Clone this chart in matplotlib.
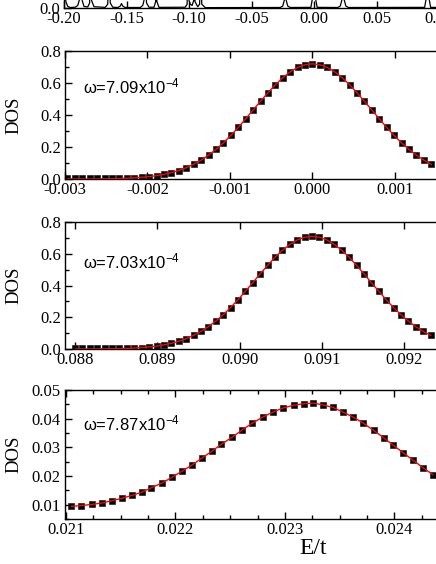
import numpy as np
import matplotlib
matplotlib.use('Agg')
import matplotlib.pyplot as plt
from matplotlib.ticker import MultipleLocator, FormatStrFormatter

plt.rcParams['font.family'] = ['Liberation Serif', 'DejaVu Serif']
plt.rcParams['axes.unicode_minus'] = False
plt.rcParams['mathtext.fontset'] = 'custom'
plt.rcParams['mathtext.rm'] = 'Liberation Sans'
plt.rcParams['mathtext.default'] = 'rm'

# top panel (only its bottom strip is visible)
e1 = [-0.2, -0.1985, -0.197, -0.195, -0.191, -0.189, -0.1875, -0.1865, -0.1855, -0.184,
      -0.181, -0.1795, -0.179, -0.178, -0.176, -0.167, -0.165, -0.164, -0.163, -0.161,
      -0.157, -0.155, -0.154, -0.153, -0.151, -0.139, -0.137, -0.136, -0.1352, -0.134,
      -0.132, -0.128, -0.1267, -0.1262, -0.1257, -0.124, -0.103, -0.1015, -0.1008, -0.100,
      -0.099, -0.0975, -0.0962, -0.0958, -0.0952, -0.093, -0.0915, -0.0905, -0.0898, -0.087,
      -0.027, -0.025, -0.0235, -0.023, -0.0225, -0.021, -0.019, -0.0025, -0.0015, -0.001,
      0.0, 0.001, 0.0015, 0.0025, 0.019, 0.021, 0.0225, 0.0232, 0.024, 0.0255, 0.0275,
      0.0885, 0.0895, 0.0901, 0.0909, 0.0917, 0.0923, 0.0933, 0.115]
dos1 = [0.2, 0.05, 0.012, 0.004, 0.006, 0.02, 0.07, 0.5, 0.06, 0.012,
        0.008, 0.04, 0.5, 0.06, 0.01, 0.005, 0.03, 0.5, 0.04, 0.006,
        0.004, 0.015, 0.035, 0.015, 0.004, 0.004, 0.02, 0.06, 0.5, 0.04,
        0.006, 0.006, 0.05, 0.5, 0.05, 0.005, 0.006, 0.03, 0.5, 0.06,
        0.03, 0.02, 0.06, 0.5, 0.05, 0.01, 0.03, 0.5, 0.03, 0.003,
        0.004, 0.015, 0.07, 0.1, 0.07, 0.015, 0.004, 0.005, 0.06, 0.3,
        0.72, 0.3, 0.06, 0.005, 0.004, 0.015, 0.07, 0.1, 0.07, 0.015, 0.004,
        0.005, 0.06, 0.3, 0.71, 0.3, 0.06, 0.005, 0.003]

# panel 2: peak at 0 (values in units of 1e-5)
e2 = [-297, -288, -279, -270, -261, -252, -243, -234, -225, -216,
      -207, -198, -189, -180, -171, -162, -153, -144, -135, -126,
      -117, -108, -99, -90, -81, -72, -63, -54, -45, -36,
      -27, -18, -9, 0, 9, 18, 27, 36, 45, 54,
      63, 72, 81, 90, 99, 108, 117, 126, 135, 144]
dos2 = [0.006, 0.006, 0.006, 0.006, 0.006, 0.006, 0.006, 0.006, 0.006, 0.008,
        0.011, 0.015, 0.021, 0.029, 0.040, 0.053, 0.071, 0.092, 0.118, 0.149,
        0.185, 0.226, 0.272, 0.322, 0.376, 0.431, 0.486, 0.539, 0.589, 0.633,
        0.670, 0.697, 0.714, 0.720, 0.714, 0.697, 0.670, 0.633, 0.589, 0.539,
        0.486, 0.431, 0.376, 0.322, 0.272, 0.226, 0.185, 0.149, 0.118, 0.092]
fit2 = [0.0001, 0.0002, 0.0003, 0.0005, 0.0008, 0.0013, 0.0021, 0.0032, 0.0048, 0.0070,
        0.0103, 0.0147, 0.021, 0.029, 0.040, 0.053, 0.071, 0.092, 0.118, 0.149,
        0.185, 0.226, 0.272, 0.322, 0.376, 0.431, 0.486, 0.539, 0.589, 0.633,
        0.670, 0.697, 0.714, 0.720, 0.714, 0.697, 0.670, 0.633, 0.589, 0.539,
        0.486, 0.431, 0.376, 0.322, 0.272, 0.226, 0.185, 0.149, 0.118, 0.092]

# panel 3: peak near 0.0909 (values in units of 1e-5)
e3 = [8800, 8809, 8818, 8827, 8836, 8845, 8854, 8863, 8872, 8881,
      8890, 8899, 8908, 8917, 8926, 8935, 8944, 8953, 8962, 8971,
      8980, 8989, 8998, 9007, 9016, 9025, 9034, 9043, 9052, 9061,
      9070, 9079, 9088, 9097, 9106, 9115, 9124, 9133, 9142, 9151,
      9160, 9169, 9178, 9187, 9196, 9205, 9214, 9223, 9232]
dos3 = [0.004, 0.004, 0.004, 0.004, 0.004, 0.004, 0.004, 0.004, 0.006, 0.009,
        0.013, 0.0185, 0.026, 0.036, 0.049, 0.065, 0.086, 0.111, 0.141, 0.176,
        0.216, 0.261, 0.311, 0.364, 0.418, 0.474, 0.527, 0.578, 0.622, 0.659,
        0.687, 0.704, 0.710, 0.704, 0.687, 0.659, 0.622, 0.578, 0.527, 0.474,
        0.418, 0.364, 0.311, 0.261, 0.216, 0.176, 0.141, 0.111, 0.086]
fit3 = [0.0002, 0.0003, 0.0004, 0.0007, 0.0011, 0.0017, 0.0027, 0.0041, 0.0061, 0.0090,
        0.0130, 0.0185, 0.026, 0.036, 0.049, 0.065, 0.086, 0.111, 0.141, 0.176,
        0.216, 0.261, 0.311, 0.364, 0.418, 0.474, 0.527, 0.578, 0.622, 0.659,
        0.687, 0.704, 0.710, 0.704, 0.687, 0.659, 0.622, 0.578, 0.527, 0.474,
        0.418, 0.364, 0.311, 0.261, 0.216, 0.176, 0.141, 0.111, 0.086]

# panel 4: peak near 0.0232 (values in units of 1e-5)
e4 = [2105, 2114, 2124, 2133, 2142, 2151, 2160, 2169, 2178, 2188,
      2197, 2206, 2215, 2224, 2233, 2242, 2252, 2261, 2270, 2280,
      2289, 2298, 2308, 2317, 2326, 2335, 2344, 2353, 2362, 2371,
      2381, 2390, 2399, 2408, 2417, 2426, 2435]
dos4 = [0.0094, 0.0097, 0.0101, 0.0106, 0.0114, 0.0122, 0.0132, 0.0143, 0.0159, 0.0176,
        0.0196, 0.0217, 0.0238, 0.0262, 0.0286, 0.0311, 0.0336, 0.0361, 0.0384, 0.0406,
        0.0423, 0.0437, 0.0447, 0.0452, 0.0454, 0.0448, 0.0439, 0.0423, 0.0406, 0.0386,
        0.0359, 0.0334, 0.0307, 0.0281, 0.0255, 0.0229, 0.0205]

W, H = 436, 564
fig = plt.figure(figsize=(W / 100, H / 100), dpi=100)


def make_ax(left, top, bottom, right=458):
    ax = fig.add_axes([left / W, (H - bottom) / H, (right - left) / W, (bottom - top) / H])
    ax.tick_params(which='both', direction='in', top=True, right=True, labelsize=12, width=1)
    ax.tick_params(which='major', length=5)
    ax.tick_params(which='minor', length=3)
    ax.tick_params(axis='x', pad=2)
    ax.tick_params(axis='y', pad=3)
    for s in ax.spines.values():
        s.set_linewidth(1.0)
    return ax


# panel 1
ax1 = make_ax(64, -120, 8)
ax1.plot(e1, dos1, color='black', lw=0.9)
ax1.set_xlim(-0.2, 0.1152)
ax1.set_ylim(0, 1.0)
ax1.xaxis.set_major_locator(MultipleLocator(0.05))
ax1.xaxis.set_major_formatter(FormatStrFormatter('%.2f'))
ax1.set_yticks([0.0])
ax1.yaxis.set_major_formatter(FormatStrFormatter('%.1f'))

panels = [
    (np.array(e2) * 1e-5, dos2, fit2, 51, 179, (-0.003, 0.001764), r'ω=7.09x10$^{-4}$', 0.72),
    (np.array(e3) * 1e-5, dos3, fit3, 222, 349, (0.087878, 0.092653), r'ω=7.03x10$^{-4}$', 0.69),
    (np.array(e4) * 1e-5, dos4, dos4, 390, 519, (0.020991, 0.024580), r'ω=7.87x10$^{-4}$', 0.74),
]

for i, (e, d, f, top, bot, xl, lab, ty) in enumerate(panels):
    ax = make_ax(65, top, bot)
    ax.plot(e, d, ls='none', marker='s', ms=4.8, mfc='black', mec='#222222', mew=0.5, zorder=2)
    ax.plot(e, f, color='red', lw=1.0, zorder=3)
    ax.set_xlim(*xl)
    ax.xaxis.set_major_locator(MultipleLocator(0.001))
    ax.xaxis.set_major_formatter(FormatStrFormatter('%.3f'))
    if i < 2:
        ax.set_ylim(0, 0.8)
        ax.yaxis.set_major_locator(MultipleLocator(0.2))
        ax.yaxis.set_minor_locator(MultipleLocator(0.1))
        ax.yaxis.set_major_formatter(FormatStrFormatter('%.1f'))
    else:
        ax.set_ylim(0.005, 0.05)
        ax.yaxis.set_major_locator(MultipleLocator(0.01))
        ax.yaxis.set_minor_locator(MultipleLocator(0.005))
        ax.yaxis.set_major_formatter(FormatStrFormatter('%.2f'))
        ax.xaxis.set_minor_locator(MultipleLocator(0.00025))
    ax.text(0.046, ty, lab, transform=ax.transAxes, family='Liberation Sans',
            fontsize=12, ha='left', va='center')
    fig.text(14 / W, 1 - (top + bot) / 2 / H, 'DOS', rotation=90, fontsize=13.5,
             ha='center', va='center')

fig.text(313 / W, 1 - 548 / H, 'E/t', fontsize=17, ha='center', va='center')

fig.savefig('out.png', dpi=100)
